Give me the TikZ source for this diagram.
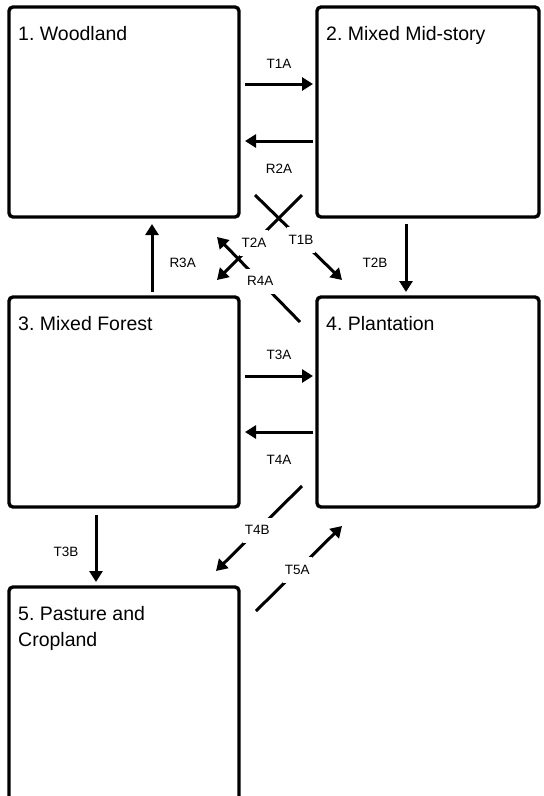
\documentclass[tikz,border=0pt]{standalone}
\usepackage{fontspec}
\setmainfont{Liberation Sans}
\usetikzlibrary{arrows.meta,calc}
\frenchspacing

\begin{document}
\begin{tikzpicture}[x=1pt, y=-1pt,
    state/.style={draw=black, line width=3.4pt, rounded corners=4pt,
                  outer sep=0pt, inner sep=0pt},
    title/.style={anchor=north west, inner sep=0pt, align=left,
                  font=\fontsize{19.5}{26.5}\selectfont},
    arrow/.style={-{Triangle[length=11pt,width=13pt]}, line width=3pt},
    tag/.style={font=\fontsize{13.5}{16}\selectfont, inner sep=0pt},
    cut/.style={tag, fill=white, inner xsep=2pt, inner ysep=8pt},
  ]
    \useasboundingbox (0,0) rectangle (544,796);
    \clip (0,0) rectangle (544,796);

    \node[state, minimum width=230pt, minimum height=210pt] (wood)  at (124,112) {};
    \node[state, minimum width=222pt, minimum height=210pt] (mid)   at (428,112) {};
    \node[state, minimum width=230pt, minimum height=210pt] (mixf)  at (124,402) {};
    \node[state, minimum width=222pt, minimum height=210pt] (plant) at (428,402) {};
    \node[state, minimum width=230pt, minimum height=240pt] (past)  at (124,707) {};

    \node[title] (woodt)  at ($(wood.north west)+(9,19)$)  {1. Woodland};
    \node[title] (midt)   at ($(mid.north west)+(9,19)$)   {2. Mixed Mid-story};
    \node[title] (mixft)  at ($(mixf.north west)+(9,19)$)  {3. Mixed Forest};
    \node[title] (plantt) at ($(plant.north west)+(9,19)$) {4. Plantation};
    \node[title] (pastt)  at ($(past.north west)+(9,19)$)  {5. Pasture and\\Cropland};

    % across
    \draw[arrow] ($(wood.east)+(6,-28)$) -- node[tag, above=14pt] (t1a) {T1A} ($(mid.west)+(-4,-28)$);
    \draw[arrow] ($(mid.west)+(-4,29)$) -- node[tag, below=22pt] (r2a) {R2A} ($(wood.east)+(6,29)$);
    \draw[arrow] ($(mixf.east)+(6,-26)$) -- node[tag, above=15pt] (t3a) {T3A} ($(plant.west)+(-4,-26)$);
    \draw[arrow] ($(plant.west)+(-4,30)$) -- node[tag, below=22pt] (t4a) {T4A} ($(mixf.east)+(6,30)$);

    % up and down
    \draw[arrow] ($(mixf.north)+(28,-5)$) -- node[tag, pos=0.43, right=16pt] (r3a) {R3A} ($(wood.south)+(28,7)$);
    \draw[arrow] ($(mid.south)+(-22,7)$) -- node[tag, pos=0.57, left=17pt] (t2b) {T2B} ($(plant.north)+(-22,-5)$);
    \draw[arrow] ($(mixf.south)+(-28,8)$) -- node[tag, pos=0.55, left=16pt] (t3b) {T3B} ($(past.north)+(-28,-5)$);

    % diagonals
    \draw[arrow] ($(wood.south east)+(16,-22)$) -- node[cut, pos=0.53] (t1b) {T1B} ($(plant.north west)+(25,-17)$);
    \draw[arrow] ($(mid.south west)+(-15,-22)$) -- node[cut, pos=0.565] (t2a) {T2A} ($(mixf.north east)+(-22,-17)$);
    \draw[arrow] ($(plant.north west)+(-17,25)$) -- node[cut, pos=0.48] (r4a) {R4A} ($(wood.south east)+(-22,20)$);
    \draw[arrow] ($(plant.south west)+(-15,-21)$) -- node[cut, pos=0.52] (t4b) {T4B} ($(past.north east)+(-23,-16)$);
    \draw[arrow] ($(past.north east)+(17,24)$) -- node[cut, pos=0.48] (t5a) {T5A} ($(plant.south west)+(25,19)$);
  \end{tikzpicture}
\end{document}
